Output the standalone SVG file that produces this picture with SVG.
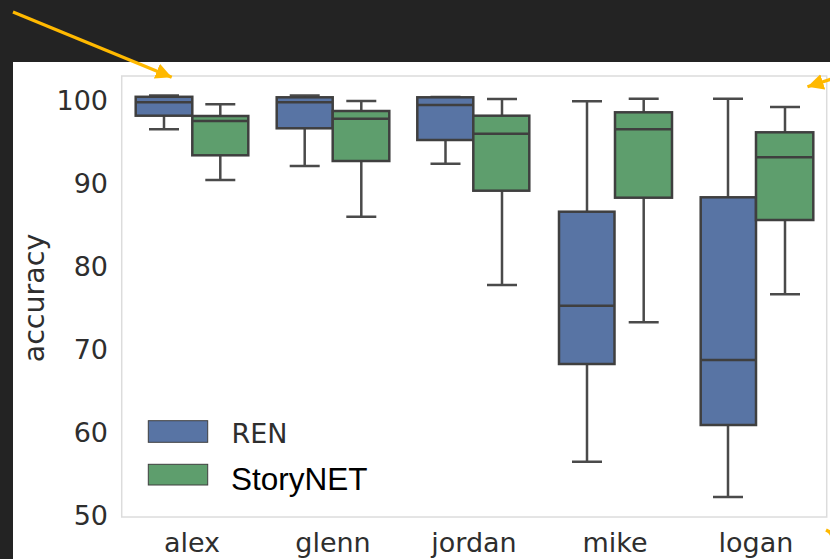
<svg xmlns="http://www.w3.org/2000/svg" width="830" height="559" viewBox="0 0 830 559">
  <style>
    .tick { font-family: "DejaVu Sans", sans-serif; font-size: 27px; fill: #2e2e2e; }
    .ytick { text-anchor: end; }
    .xtick { text-anchor: middle; }
    .ylabel { font-size: 28.5px; }
    .ren { fill: #5874a4; stroke: #3f3f3f; stroke-width: 2.5; }
    .story { fill: #5e9e6d; stroke: #3f3f3f; stroke-width: 2.5; }
    .med { stroke: #3f3f3f; stroke-width: 2.5; fill: none; }
    .whisk { stroke: #4a4a4a; stroke-width: 2.5; fill: none; }
    .frame { fill: #ffffff; stroke: #dcdcdc; stroke-width: 1.5; }
    .arrow { stroke: #ffb900; stroke-width: 3.2; fill: none; }
  </style>
  <defs>
    <marker id="head" markerUnits="userSpaceOnUse" markerWidth="20" markerHeight="20" refX="16" refY="8" orient="auto">
      <path d="M0,0 L16,8 L0,16 Z" fill="#ffb900"/>
    </marker>
  </defs>

  <!-- slide background and white chart card -->
  <rect x="0" y="0" width="830" height="559" fill="#232323"/>
  <rect x="13" y="62" width="817" height="497" fill="#ffffff"/>

  <!-- axes frame -->
  <rect class="frame" x="121.7" y="76" width="705" height="441"/>

  <!-- y axis -->
  <g id="y-axis">
    <text class="tick ytick" x="108" y="110">100</text>
    <text class="tick ytick" x="108" y="193">90</text>
    <text class="tick ytick" x="108" y="276">80</text>
    <text class="tick ytick" x="108" y="359">70</text>
    <text class="tick ytick" x="108" y="442">60</text>
    <text class="tick ytick" x="108" y="525">50</text>
    <text class="tick ylabel" x="0" y="0" text-anchor="middle" transform="translate(43.5,298) rotate(-90)">accuracy</text>
  </g>

  <!-- x axis -->
  <g id="x-axis">
    <text class="tick xtick" x="192" y="552">alex</text>
    <text class="tick xtick" x="333" y="552">glenn</text>
    <text class="tick xtick" x="474" y="552">jordan</text>
    <text class="tick xtick" x="615" y="552">mike</text>
    <text class="tick xtick" x="756" y="552">logan</text>
  </g>

  <!-- alex -->
  <g id="alex">
    <path class="whisk" d="M164,95.5 V129.3 M149,95.5 H179 M149,129.3 H179"/>
    <rect class="ren" x="135.7" y="96.8" width="56.6" height="18.9"/>
    <path class="med" d="M135.7,102.3 H192.3"/>
    <path class="whisk" d="M220.3,104.3 V180 M205.3,104.3 H235.3 M205.3,180 H235.3"/>
    <rect class="story" x="192.3" y="116" width="56" height="39.3"/>
    <path class="med" d="M192.3,121 H248.3"/>
  </g>

  <!-- glenn -->
  <g id="glenn">
    <path class="whisk" d="M304.7,95.5 V166 M289.7,95.5 H319.7 M289.7,166 H319.7"/>
    <rect class="ren" x="276.7" y="97.3" width="56" height="31"/>
    <path class="med" d="M276.7,102.3 H332.7"/>
    <path class="whisk" d="M361.3,101 V216.7 M346.3,101 H376.3 M346.3,216.7 H376.3"/>
    <rect class="story" x="332.7" y="111" width="56.6" height="50"/>
    <path class="med" d="M332.7,118.7 H389.3"/>
  </g>

  <!-- jordan -->
  <g id="jordan">
    <path class="whisk" d="M445.5,97 V163.7 M430.5,97 H460.5 M430.5,163.7 H460.5"/>
    <rect class="ren" x="417.3" y="97.3" width="56" height="42.7"/>
    <path class="med" d="M417.3,105 H473.3"/>
    <path class="whisk" d="M502,99 V285 M487,99 H517 M487,285 H517"/>
    <rect class="story" x="473.3" y="115.7" width="56" height="75"/>
    <path class="med" d="M473.3,133.7 H529.3"/>
  </g>

  <!-- mike -->
  <g id="mike">
    <path class="whisk" d="M587,101.3 V461.7 M572,101.3 H602 M572,461.7 H602"/>
    <rect class="ren" x="559" y="211.7" width="55.5" height="152.3"/>
    <path class="med" d="M559,305.7 H614.5"/>
    <path class="whisk" d="M643.7,98.7 V322.3 M628.7,98.7 H658.7 M628.7,322.3 H658.7"/>
    <rect class="story" x="615" y="112.3" width="57" height="85.4"/>
    <path class="med" d="M615,129.3 H672"/>
  </g>

  <!-- logan -->
  <g id="logan">
    <path class="whisk" d="M728,98.7 V497 M713,98.7 H743 M713,497 H743"/>
    <rect class="ren" x="700.7" y="197.3" width="55.3" height="227.7"/>
    <path class="med" d="M700.7,360 H756"/>
    <path class="whisk" d="M785,107 V294.3 M770,107 H800 M770,294.3 H800"/>
    <rect class="story" x="756" y="132.3" width="57.3" height="87.7"/>
    <path class="med" d="M756,157.3 H813.3"/>
  </g>

  <!-- legend -->
  <g id="legend">
    <rect x="148.3" y="420.7" width="59.4" height="21.6" fill="#5874a4" stroke="#3f3f3f" stroke-width="1"/>
    <text class="tick" x="231.5" y="442.5">REN</text>
    <rect x="148.3" y="464.3" width="59.4" height="20.7" fill="#5e9e6d" stroke="#3f3f3f" stroke-width="1"/>
    <text x="231" y="490" font-family="'Liberation Sans', Arial, sans-serif" font-size="31.5" fill="#000000">StoryNET</text>
  </g>

  <!-- pointer arrows -->
  <g id="connectors">
    <line class="arrow" x1="13" y1="12" x2="171.7" y2="77.3" marker-end="url(#head)"/>
    <line class="arrow" x1="860" y1="70" x2="807.5" y2="86.7" marker-end="url(#head)"/>
    <line class="arrow" x1="860" y1="548" x2="826" y2="530" marker-end="url(#head)"/>
  </g>
</svg>
